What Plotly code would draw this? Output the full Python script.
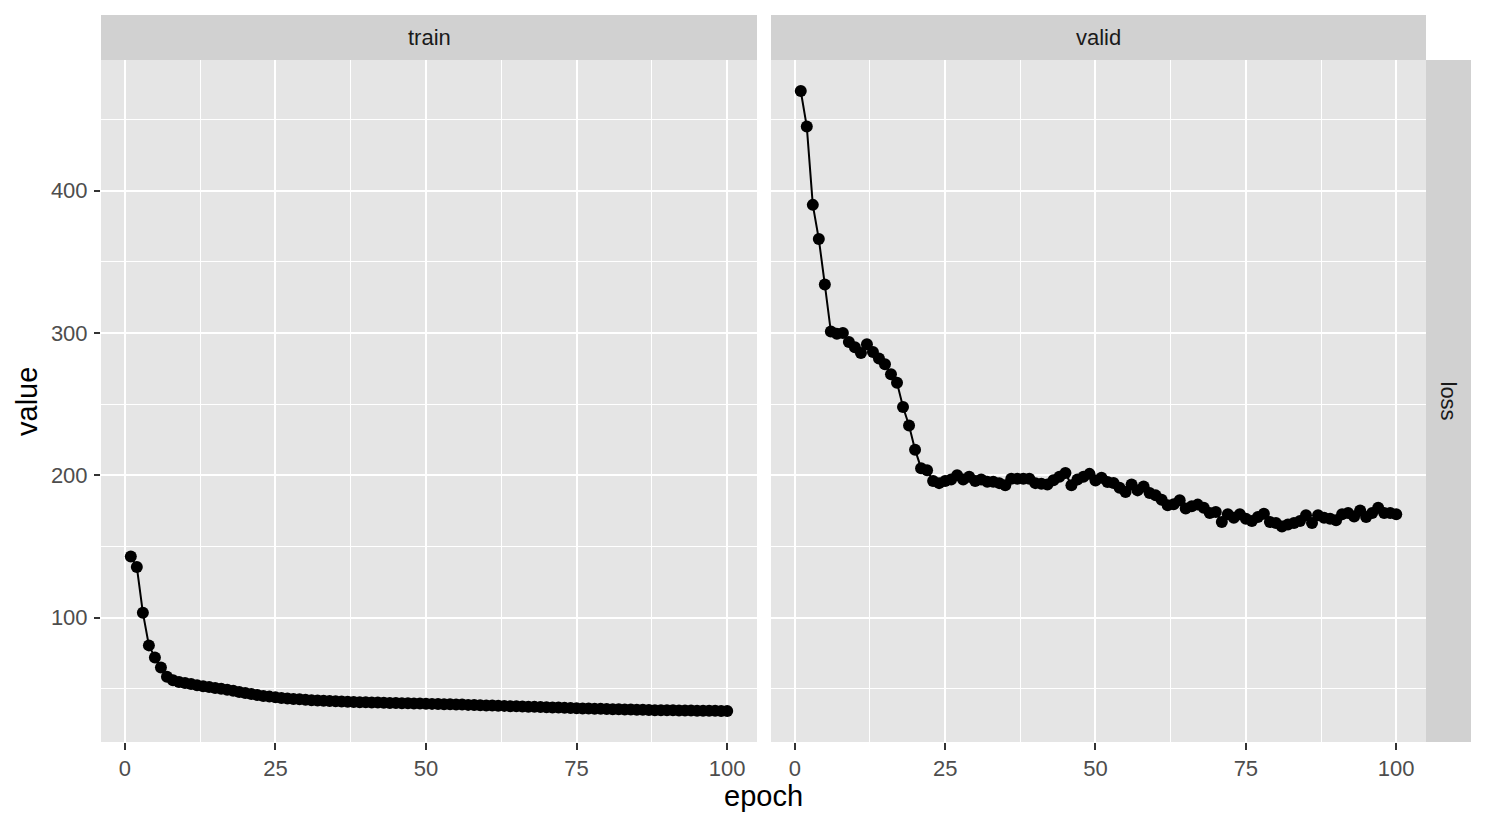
import plotly.graph_objects as go

epochs = list(range(1, 101))

train_loss = [
    143, 135.5, 103.5, 80.5, 72, 65, 58.5, 56, 54.7, 54,
    53.3, 52.5, 51.8, 51.2, 50.6, 50.1, 49.4, 48.6, 47.8, 47.1,
    46.4, 45.7, 45.0, 44.5, 44.0, 43.6, 43.2, 42.9, 42.6, 42.3,
    42.0, 41.8, 41.6, 41.4, 41.2, 41.0, 40.9, 40.8, 40.6, 40.5,
    40.4, 40.3, 40.2, 40.1, 40.0, 39.9, 39.8, 39.7, 39.6, 39.5,
    39.4, 39.3, 39.2, 39.1, 39.0, 38.9, 38.7, 38.6, 38.5, 38.3,
    38.2, 38.1, 38.0, 37.8, 37.7, 37.6, 37.4, 37.3, 37.2, 37.0,
    36.9, 36.8, 36.6, 36.5, 36.3, 36.2, 36.1, 36.0, 35.9, 35.8,
    35.7, 35.6, 35.5, 35.4, 35.3, 35.2, 35.1, 35.0, 34.95, 34.9,
    34.85, 34.8, 34.75, 34.7, 34.65, 34.6, 34.55, 34.5, 34.45, 34.4,
]

valid_loss = [
    470, 445, 390, 366, 334, 301, 299.5, 300, 293.6, 290,
    286, 292, 286.6, 282, 278, 271, 265, 248, 235, 218,
    205, 203.5, 196, 194.5, 196, 197, 200, 197, 199, 196,
    197, 195.5, 195.5, 194.5, 193, 197.6, 197.6, 197.6, 197.6, 194.5,
    194, 193.5, 196.5, 199, 201.6, 193, 197, 199, 201, 196.4,
    198.3, 195.3, 194.6, 191.3, 188.2, 193.6, 189.4, 192.2, 187.5, 185.9,
    182.9, 178.9, 179.6, 182.4, 176.6, 178.2, 179.4, 177.2, 173.5, 174.2,
    167.2, 172.6, 170.2, 172.6, 169.5, 167.9, 170.7, 173, 167.2, 166.5,
    164.1, 165.5, 166.5, 167.9, 171.9, 166.5, 171.9, 170.2, 169.5, 168.4,
    172.6, 173.5, 171.1, 175.3, 170.7, 173.5, 177.2, 173.5, 173.5, 172.6,
]

panel_labels = ["train", "valid"]
row_label = "loss"
x_ticks = [0, 25, 50, 75, 100]
x_minor = [12.5, 37.5, 62.5, 87.5]
y_ticks = [100, 200, 300, 400]
y_minor = [50, 150, 250, 350, 450]

W, H = 1486, 826
FONT = "Liberation Sans, Arial, Helvetica, sans-serif"
PANEL_BG = "#E5E5E5"
STRIP_BG = "#D1D1D1"
TICK_FS = 22
TITLE_FS = 29

# pixel layout
L1, R1 = 101, 757
L2, R2 = 771, 1426
TOP, BOT = 60, 742
STRIP_TOP = 15
RSTRIP_R = 1471


def px_x(p):
    return p / W


def px_y(p):
    return 1 - p / H


xmin, xmax = min(epochs), max(epochs)
xpad = (xmax - xmin) * 0.05
allv = train_loss + valid_loss
ymin, ymax = min(allv), max(allv)
ypad = (ymax - ymin) * 0.05

fig = go.Figure()
for i, vals in enumerate([train_loss, valid_loss]):
    fig.add_trace(go.Scatter(
        x=epochs, y=vals, mode="lines+markers",
        line=dict(color="black", width=2),
        marker=dict(color="black", size=12),
        xaxis="x" if i == 0 else "x2",
        yaxis="y" if i == 0 else "y2",
        showlegend=False, hoverinfo="x+y",
    ))

xcommon = dict(
    range=[xmin - xpad, xmax + xpad],
    tickvals=x_ticks, ticktext=[str(t) for t in x_ticks],
    showgrid=True, gridcolor="white", gridwidth=2,
    minor=dict(tickvals=x_minor, showgrid=True, gridcolor="white", gridwidth=1, ticks=""),
    zeroline=False, showline=False,
    ticks="outside", ticklen=7, tickwidth=2, tickcolor="#333333",
    tickfont=dict(family=FONT, size=TICK_FS, color="#4D4D4D"),
    automargin=False,
)
ycommon = dict(
    range=[ymin - ypad, ymax + ypad],
    tickvals=y_ticks, ticktext=[str(t) for t in y_ticks],
    showgrid=True, gridcolor="white", gridwidth=2,
    minor=dict(tickvals=y_minor, showgrid=True, gridcolor="white", gridwidth=1, ticks=""),
    zeroline=False, showline=False,
    automargin=False,
    domain=[px_y(BOT), px_y(TOP)],
)

fig.update_layout(
    width=W, height=H,
    margin=dict(l=0, r=0, t=0, b=0, pad=0),
    paper_bgcolor="white",
    plot_bgcolor=PANEL_BG,
    font=dict(family=FONT),
    xaxis=dict(**xcommon, domain=[px_x(L1), px_x(R1)], anchor="y"),
    xaxis2=dict(**xcommon, domain=[px_x(L2), px_x(R2)], anchor="y2"),
    yaxis=dict(**ycommon, anchor="x",
               ticks="outside", ticklen=6, tickwidth=2, tickcolor="#333333",
               ticklabelstandoff=2,
               tickfont=dict(family=FONT, size=TICK_FS, color="#4D4D4D")),
    yaxis2=dict(**ycommon, anchor="x2", matches="y",
                showticklabels=False, ticks=""),
)

shapes = []
for (l, r) in [(L1, R1), (L2, R2)]:
    shapes.append(dict(type="rect", xref="paper", yref="paper",
                       x0=px_x(l), x1=px_x(r), y0=px_y(TOP), y1=px_y(STRIP_TOP),
                       fillcolor=STRIP_BG, line=dict(width=0), layer="below"))
shapes.append(dict(type="rect", xref="paper", yref="paper",
                   x0=px_x(R2), x1=px_x(RSTRIP_R), y0=px_y(BOT), y1=px_y(TOP),
                   fillcolor=STRIP_BG, line=dict(width=0), layer="below"))
fig.update_layout(shapes=shapes)

ann = []
for lab, (l, r) in zip(panel_labels, [(L1, R1), (L2, R2)]):
    ann.append(dict(text=lab, xref="paper", yref="paper",
                    x=px_x((l + r) / 2), y=px_y((STRIP_TOP + TOP) / 2),
                    showarrow=False, xanchor="center", yanchor="middle",
                    font=dict(family=FONT, size=TICK_FS, color="#1A1A1A")))
ann.append(dict(text=row_label, xref="paper", yref="paper",
                x=px_x((R2 + RSTRIP_R) / 2), y=px_y((TOP + BOT) / 2),
                showarrow=False, textangle=90, xanchor="center", yanchor="middle",
                font=dict(family=FONT, size=TICK_FS, color="#1A1A1A")))
ann.append(dict(text="epoch", xref="paper", yref="paper",
                x=px_x((L1 + R2) / 2), y=px_y(796),
                showarrow=False, xanchor="center", yanchor="middle",
                font=dict(family=FONT, size=TITLE_FS, color="black")))
ann.append(dict(text="value", xref="paper", yref="paper",
                x=px_x(27), y=px_y(402),
                showarrow=False, textangle=-90, xanchor="center", yanchor="middle",
                font=dict(family=FONT, size=TITLE_FS, color="black")))
fig.update_layout(annotations=ann)

fig.write_html("out.html", config={"displayModeBar": False},
               post_script="document.body.style.margin='0';")
